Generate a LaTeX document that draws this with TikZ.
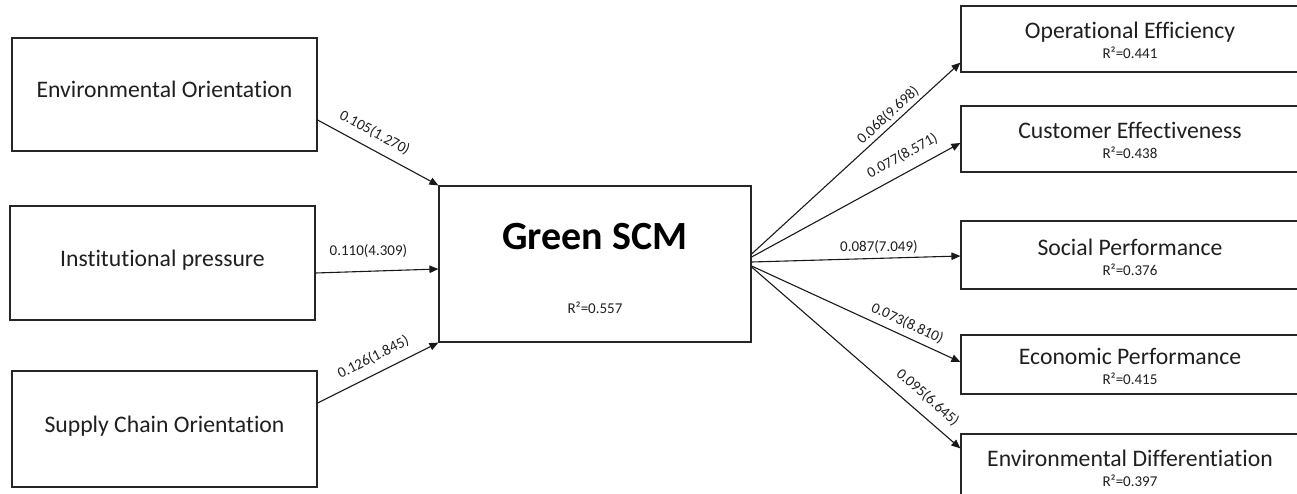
\documentclass[tikz,border=0pt]{standalone}
\usepackage{fontspec}
\setmainfont{Carlito}[Ligatures=NoCommon]
\usetikzlibrary{arrows.meta}
\begin{document}
\begin{tikzpicture}[x=1pt,y=-1pt,
  box/.style={draw=black!85,line width=1.2pt,inner sep=0pt,text=black!88},
  lbox/.style={box,minimum width=305pt,font=\fontsize{23.7}{28}\selectfont,text height=0.64em,text depth=0pt},
  rbox/.style={box,minimum width=338pt},
  ttl/.style={font=\fontsize{23.7}{28}\selectfont,text=black!88,inner sep=0pt,anchor=base},
  rsq/.style={font=\fontsize{15}{18}\selectfont,text=black!88,inner sep=0pt,anchor=base},
  lab/.style={font=\fontsize{15}{18}\selectfont,text=black!88,inner sep=0pt},
  arr/.style={draw=black!90,line width=1.1pt,-{Triangle[length=9pt,width=7.5pt]}}]
\clip (0,0) rectangle (1297,494);
% left boxes
\node[lbox,minimum height=113pt] (env) at (164.5,94.5) {Environmental Orientation};
\node[lbox,minimum height=114pt] (inst) at (162.5,263) {Institutional pressure};
\node[lbox,minimum height=116pt] (sco) at (164.5,429) {Supply Chain Orientation};
% centre
\node[box,minimum width=312pt,minimum height=156pt] (gscm) at (595,264) {};
\node[font=\bfseries\fontsize{40}{48}\selectfont,text=black,inner sep=0pt,anchor=base] (gtitle) at ([yshift=14pt]gscm.center) {Green SCM};
\node[rsq] (gr2) at ([yshift=-49pt]gscm.center) {R²=0.557};
% right boxes
\node[rbox,minimum height=66pt] (oe) at (1130,39) {};
\node[ttl] (oet) at (oe.center) {Operational Efficiency};
\node[rsq] (oer) at ([yshift=-20pt]oe.center) {R²=0.441};
\node[rbox,minimum height=66pt] (ce) at (1130,139) {};
\node[ttl] (cet) at (ce.center) {Customer Effectiveness};
\node[rsq] (cer) at ([yshift=-20pt]ce.center) {R²=0.438};
\node[rbox,minimum height=68pt] (sp) at (1130,255) {};
\node[ttl] (spt) at (sp.center) {Social Performance};
\node[rsq] (spr) at ([yshift=-20pt]sp.center) {R²=0.376};
\node[rbox,minimum height=59pt] (ep) at (1130,364.5) {};
\node[ttl] (ept) at (ep.center) {Economic Performance};
\node[rsq] (epr) at ([yshift=-20pt]ep.center) {R²=0.415};
\node[rbox,minimum height=64pt] (ed) at (1130,466) {};
\node[ttl] (edt) at (ed.center) {Environmental Differentiation};
\node[rsq] (edr) at ([yshift=-20pt]ed.center) {R²=0.397};
% left arrows
\draw[arr] ([yshift=-25.5pt]env.east) -- (gscm.north west)
  node[lab,pos=0.41,sloped,above=9pt] (l1) {0.105(1.270)};
\draw[arr] ([yshift=-10pt]inst.east) -- ([yshift=-5pt]gscm.west)
  node[lab,pos=0.43,above=13pt] (l2) {0.110(4.309)};
\draw[arr] ([yshift=26pt]sco.east) -- (gscm.south west)
  node[lab,pos=0.52,sloped,above=9pt] (l3) {0.126(1.845)};
% right arrows
\draw[arr] ([yshift=10pt]gscm.east) -- ([yshift=10pt]oe.south west)
  node[lab,pos=0.686,sloped,above=3pt] (r1) {0.068(9.698)};
\draw[arr] ([yshift=7pt]gscm.east) -- ([yshift=-4pt]ce.west)
  node[lab,pos=0.76,sloped,above=9.5pt] (r2) {0.077(8.571)};
\draw[arr] ([yshift=2pt]gscm.east) -- ([yshift=-1pt]sp.west)
  node[lab,pos=0.61,above=4pt] (r3) {0.087(7.049)};
\draw[arr] ([yshift=-2pt]gscm.east) -- ([yshift=2.5pt]ep.west)
  node[lab,pos=0.72,sloped,above=6pt] (r4) {0.073(8.810)};
\draw[arr] ([yshift=-3pt]gscm.east) -- ([yshift=-15pt]ed.north west)
  node[lab,pos=0.79,sloped,above=10pt] (r5) {0.095(6.645)};
\end{tikzpicture}
\end{document}
